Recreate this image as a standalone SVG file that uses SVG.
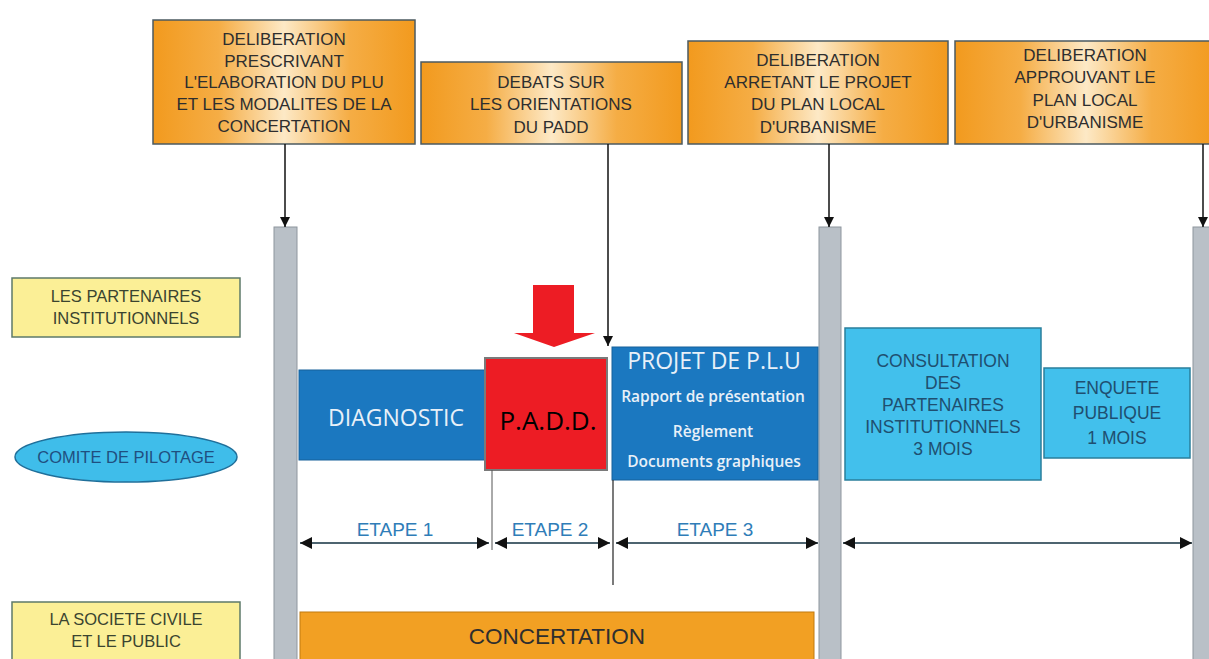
<svg xmlns="http://www.w3.org/2000/svg" width="1209" height="659" viewBox="0 0 1209 659">
<defs>
<linearGradient id="og" x1="0" y1="0" x2="1" y2="0">
<stop offset="0" stop-color="#f29a1e"/>
<stop offset="0.25" stop-color="#f5ad45"/>
<stop offset="0.5" stop-color="#fde9c6"/>
<stop offset="0.75" stop-color="#f5ad45"/>
<stop offset="1" stop-color="#f29a1e"/>
</linearGradient>
<marker id="ah" viewBox="0 0 10 10" refX="10" refY="5" markerWidth="10" markerHeight="10" markerUnits="userSpaceOnUse" orient="auto">
<path d="M0,0 L10,5 L0,10 z" fill="#111"/>
</marker>
<marker id="ah2" viewBox="0 0 10 10" refX="10" refY="5" markerWidth="12" markerHeight="12" markerUnits="userSpaceOnUse" orient="auto-start-reverse">
<path d="M0,0 L10,5 L0,10 z" fill="#111"/>
</marker>
</defs>
<style>
.top{fill:url(#og);stroke:#4b5a60;stroke-width:1.5}
.tt{font-family:"Liberation Sans",Arial,sans-serif;font-size:17px;fill:#2e2e2e;text-anchor:middle}
.bar{fill:#b9c0c7;stroke:#8e969e;stroke-width:1}
.yel{fill:#fbef96;stroke:#5d7a6a;stroke-width:1.5}
.yt{font-family:"Liberation Sans",Arial,sans-serif;font-size:16.5px;fill:#3a4430;text-anchor:middle}
.blue{fill:#1b78c0;stroke:#16609a;stroke-width:1}
.cyan{fill:#42c0ec;stroke:#2a7f9c;stroke-width:1.5}
.ct{font-family:"Liberation Sans",Arial,sans-serif;font-size:17.5px;fill:#1f4f70;text-anchor:middle}
.wt{font-family:"Open Sans","Liberation Sans",sans-serif;fill:#e8f0f8;text-anchor:middle}
.conn{stroke:#111;stroke-width:1.5;fill:none}
.et{stroke:#4d6470;stroke-width:2;fill:none}
.etl{font-family:"Liberation Sans",Arial,sans-serif;font-size:19px;fill:#2f7db8;text-anchor:middle}
</style>
<rect width="1209" height="659" fill="#ffffff"/>

<g id="bars">
<rect class="bar" x="274" y="227" width="23" height="440"/>
<rect class="bar" x="819" y="227" width="22" height="440"/>
<rect class="bar" x="1193" y="227" width="22" height="440"/>
</g>

<g id="box-prescrivant">
<rect class="top" x="153" y="20" width="262" height="124"/>
<text class="tt" x="284" y="45">DELIBERATION</text>
<text class="tt" x="284" y="67">PRESCRIVANT</text>
<text class="tt" x="284" y="88">L'ELABORATION DU PLU</text>
<text class="tt" x="284" y="110">ET LES MODALITES DE LA</text>
<text class="tt" x="284" y="132">CONCERTATION</text>
</g>
<g id="box-debats">
<rect class="top" x="421" y="62" width="261" height="82"/>
<text class="tt" x="551" y="88">DEBATS SUR</text>
<text class="tt" x="551" y="110">LES ORIENTATIONS</text>
<text class="tt" x="551" y="133">DU PADD</text>
</g>
<g id="box-arretant">
<rect class="top" x="688" y="41" width="260" height="103"/>
<text class="tt" x="818" y="66">DELIBERATION</text>
<text class="tt" x="818" y="88">ARRETANT LE PROJET</text>
<text class="tt" x="818" y="110">DU PLAN LOCAL</text>
<text class="tt" x="818" y="133">D'URBANISME</text>
</g>
<g id="box-approuvant">
<rect class="top" x="955" y="41" width="262" height="103"/>
<text class="tt" x="1085" y="61">DELIBERATION</text>
<text class="tt" x="1085" y="83">APPROUVANT LE</text>
<text class="tt" x="1085" y="106">PLAN LOCAL</text>
<text class="tt" x="1085" y="128">D'URBANISME</text>
</g>

<g id="label-partenaires">
<rect class="yel" x="12" y="278" width="228" height="59"/>
<text class="yt" x="126" y="302">LES PARTENAIRES</text>
<text class="yt" x="126" y="324">INSTITUTIONNELS</text>
</g>
<g id="label-comite">
<ellipse cx="126" cy="457" rx="111" ry="25" fill="#3fbdea" stroke="#1f6f9a" stroke-width="1.5"/>
<text x="126" y="463" font-family="Liberation Sans, Arial, sans-serif" font-size="16.5px" fill="#1f4f80" text-anchor="middle">COMITE DE PILOTAGE</text>
</g>
<g id="label-societe">
<rect class="yel" x="12" y="602" width="228" height="62"/>
<text class="yt" x="126" y="625">LA SOCIETE CIVILE</text>
<text class="yt" x="126" y="647">ET LE PUBLIC</text>
</g>

<g id="diagnostic">
<rect class="blue" x="299" y="370" width="188" height="90"/>
<text class="wt" x="396" y="426" font-size="23">DIAGNOSTIC</text>
</g>
<g id="projet">
<rect class="blue" x="612" y="347" width="206" height="133"/>
<text class="wt" x="714" y="369" font-size="23">PROJET DE P.L.U</text>
<text class="wt" x="713" y="402" font-size="15.5" font-weight="600">Rapport de présentation</text>
<text class="wt" x="713" y="437" font-size="15.5" font-weight="600">Règlement</text>
<text class="wt" x="714" y="467" font-size="15.5" font-weight="600">Documents graphiques</text>
</g>
<g id="padd">
<rect x="485" y="358" width="122" height="112" fill="#ed1c24" stroke="#7a7a7a" stroke-width="2"/>
<text x="548" y="430" font-family="Open Sans, Liberation Sans, sans-serif" font-size="26" fill="#000" text-anchor="middle">P.A.D.D.</text>
</g>
<g id="red-arrow">
<path d="M533,285 L574,285 L574,333 L595,333 L554,347 L514,333 L533,333 z" fill="#ed1c24"/>
</g>
<g id="consultation">
<rect class="cyan" x="845" y="328" width="196" height="152"/>
<text class="ct" x="943" y="367">CONSULTATION</text>
<text class="ct" x="943" y="389">DES</text>
<text class="ct" x="943" y="411">PARTENAIRES</text>
<text class="ct" x="943" y="433">INSTITUTIONNELS</text>
<text class="ct" x="943" y="455">3 MOIS</text>
</g>
<g id="enquete">
<rect class="cyan" x="1044" y="368" width="146" height="90"/>
<text class="ct" x="1117" y="394" font-size="20">ENQUETE</text>
<text class="ct" x="1117" y="419" font-size="20">PUBLIQUE</text>
<text class="ct" x="1117" y="444" font-size="20">1 MOIS</text>
</g>
<g id="concertation">
<rect x="300" y="612" width="514" height="52" fill="#f2a023" stroke="#c07a10" stroke-width="1"/>
<text x="557" y="644" font-family="Liberation Sans, Arial, sans-serif" font-size="22.5" fill="#2e2e2e" text-anchor="middle">CONCERTATION</text>
</g>

<g id="connectors">
<line class="conn" x1="285" y1="144" x2="285" y2="227" marker-end="url(#ah)"/>
<line class="conn" x1="608" y1="144" x2="608" y2="346" marker-end="url(#ah)"/>
<line class="conn" x1="829" y1="144" x2="829" y2="227" marker-end="url(#ah)"/>
<line class="conn" x1="1203" y1="144" x2="1203" y2="227" marker-end="url(#ah)"/>
<line x1="492" y1="470" x2="492" y2="550" stroke="#555" stroke-width="1"/>
<line x1="613" y1="480" x2="613" y2="585" stroke="#222" stroke-width="1.2"/>
<line class="et" x1="300" y1="543" x2="489" y2="543" marker-start="url(#ah2)" marker-end="url(#ah2)"/>
<line class="et" x1="495" y1="543" x2="610" y2="543" marker-start="url(#ah2)" marker-end="url(#ah2)"/>
<line class="et" x1="616" y1="543" x2="818" y2="543" marker-start="url(#ah2)" marker-end="url(#ah2)"/>
<line class="et" x1="843" y1="543" x2="1192" y2="543" marker-start="url(#ah2)" marker-end="url(#ah2)"/>
<text class="etl" x="395" y="536">ETAPE 1</text>
<text class="etl" x="550" y="536">ETAPE 2</text>
<text class="etl" x="715" y="536">ETAPE 3</text>
</g>
</svg>
